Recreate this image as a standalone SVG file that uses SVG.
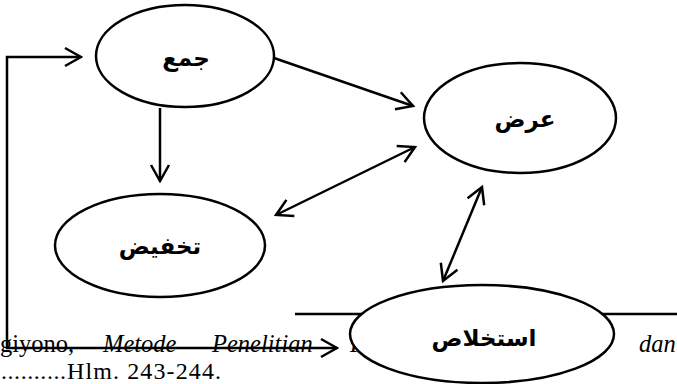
<svg xmlns="http://www.w3.org/2000/svg" width="677" height="384" viewBox="0 0 677 384">
<defs>
<style>
.node ellipse{fill:#fff;stroke:#000;stroke-width:2.5}
.lbl{font-family:"DejaVu Sans",sans-serif;font-weight:bold;font-size:23px;text-anchor:middle;fill:#000}
.conn{fill:none;stroke:#000;stroke-width:2.5}
.page{font-family:"Liberation Serif",serif;font-size:24.5px;fill:#000}
.it{font-style:italic}
.rule{stroke:#000;stroke-width:2.5}
</style>
<marker id="ah" viewBox="0 0 20 22" refX="18" refY="11" markerWidth="20" markerHeight="22" markerUnits="userSpaceOnUse" orient="auto-start-reverse">
<path d="M2,2 L18,11 L2,20" fill="none" stroke="#000" stroke-width="2.5"/>
</marker>
</defs>
<rect width="677" height="384" fill="#fff"/>
<g id="page-text">
<line class="rule" x1="295" y1="314" x2="677" y2="314"/>
<text class="page" x="0" y="352">giyono,</text>
<text class="page it" x="103" y="352">Metode</text>
<text class="page it" x="212" y="352">Penelitian</text>
<text class="page it" x="350" y="352">P</text>
<text class="page it" x="639" y="352">dan</text>
<text class="page" x="1" y="378.5" style="font-size:24px" textLength="65" lengthAdjust="spacing">..........</text>
<text class="page" x="67" y="378.5" style="font-size:24px" textLength="154" lengthAdjust="spacing">Hlm. 243-244.</text>
</g>
<g id="connectors">
<path class="conn" d="M337,348 L7,348 L7,57 L81,57" marker-start="url(#ah)" marker-end="url(#ah)"/>
<path class="conn" d="M274,58 L413,106" marker-end="url(#ah)"/>
<path class="conn" d="M160,108 L160,181" marker-end="url(#ah)"/>
<path class="conn" d="M276,215 L415,147" marker-start="url(#ah)" marker-end="url(#ah)"/>
<path class="conn" d="M482,187 L443,281" marker-start="url(#ah)" marker-end="url(#ah)"/>
</g>
<g id="node-jam" class="node">
<ellipse cx="185" cy="56" rx="89" ry="51"/>
<text class="lbl" x="186" y="66">جمع</text>
</g>
<g id="node-ard" class="node">
<ellipse cx="520" cy="118" rx="96" ry="55"/>
<text class="lbl" x="525" y="127">عرض</text>
</g>
<g id="node-takhfid" class="node">
<ellipse cx="160" cy="245.5" rx="105" ry="51.5"/>
<text class="lbl" x="160" y="254">تخفيض</text>
</g>
<g id="node-istikhlas" class="node">
<ellipse cx="482" cy="334" rx="132" ry="49"/>
<text class="lbl" x="484" y="346">استخلاص</text>
</g>
</svg>
